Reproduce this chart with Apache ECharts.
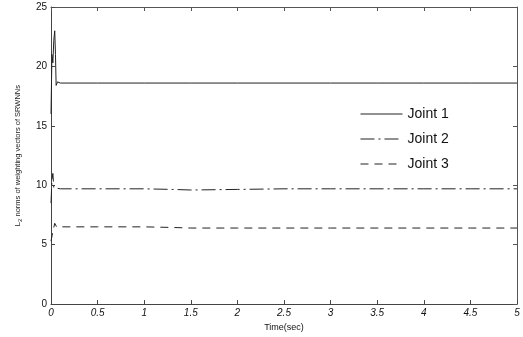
<!DOCTYPE html>
<html>
<head>
<meta charset="utf-8">
<script src="https://cdn.jsdelivr.net/npm/echarts@6/dist/echarts.min.js"></script>
<style>
html, body { margin: 0; padding: 0; background: #fff; }
#chart { width: 523px; height: 337px; }
</style>
</head>
<body>
<div id="chart"></div>
<script>
// values
const xTicks = [0, 0.5, 1, 1.5, 2, 2.5, 3, 3.5, 4, 4.5, 5]
const t1 = [0, 0.01, 0.02, 0.03, 0.04, 0.048, 0.055, 0.07, 0.1, 0.5, 1, 1.5, 2, 2.5, 3, 3.5, 4, 4.5, 5]
const joint1 = [16, 21, 20.3, 22.2, 23, 21, 18.4, 18.7, 18.6, 18.6, 18.6, 18.6, 18.6, 18.6, 18.6, 18.6, 18.6, 18.6, 18.6]
const t2 = [0, 0.01, 0.02, 0.03, 0.05, 0.1, 0.5, 1, 1.3, 1.5, 2, 2.5, 3, 3.5, 4, 4.5, 5]
const joint2 = [8.5, 10.4, 11, 9.8, 9.7, 9.7, 9.7, 9.7, 9.65, 9.6, 9.65, 9.7, 9.7, 9.7, 9.7, 9.7, 9.7]
const t3 = [0, 0.02, 0.04, 0.06, 0.1, 0.5, 1, 1.3, 1.5, 2, 2.5, 3, 3.5, 4, 4.5, 5]
const joint3 = [5.3, 6.1, 6.8, 6.5, 6.5, 6.5, 6.5, 6.45, 6.4, 6.4, 6.4, 6.4, 6.4, 6.4, 6.4, 6.4]

const pairs = (xs, ys) => xs.map((x, i) => [x, ys[i]])

let myChart = echarts.init(document.getElementById('chart'))

const lineColor = '#222'
const labelFont = 'Liberation Sans, Arial, sans-serif'

const options = {
    animation: false,
    grid: { left: 51, right: 6, top: 7, bottom: 29 },
    legend: {
        orient: 'vertical',
        left: 355,
        top: 102,
        itemWidth: 42,
        itemHeight: 10,
        itemGap: 11,
        itemStyle: { opacity: 0 },
        lineStyle: { width: 1 },
        textStyle: { fontSize: 14, color: '#111', fontFamily: labelFont },
        data: ['Joint 1', 'Joint 2', 'Joint 3']
    },
    xAxis: [
        {
            type: 'value', min: 0, max: 5, interval: 0.5,
            name: 'Time(sec)', nameLocation: 'middle', nameGap: 17,
            nameTextStyle: { fontSize: 9, color: '#111', fontFamily: labelFont },
            axisLine: { onZero: false, lineStyle: { color: '#444', width: 1 } },
            axisTick: { inside: true, length: 4, lineStyle: { color: '#444' } },
            axisLabel: {
                fontSize: 10, color: '#111', fontFamily: labelFont, fontStyle: 'italic', margin: 4,
                formatter: (v) => String(v)
            },
            splitLine: { show: false }
        },
        {
            type: 'value', min: 0, max: 5, interval: 0.5, position: 'top',
            axisLine: { onZero: false, lineStyle: { color: '#555', width: 1 } },
            axisTick: { inside: true, length: 4, lineStyle: { color: '#555' } },
            axisLabel: { show: false },
            splitLine: { show: false }
        }
    ],
    yAxis: [
        {
            type: 'value', min: 0, max: 25, interval: 5,
            name: '{n|L}{s|2}{n| norms of weighting vectors of SRWNNs}',
            nameLocation: 'middle', nameGap: 28, nameRotate: 90,
            nameTextStyle: {
                rich: {
                    n: { fontSize: 7.5, color: '#222', fontFamily: labelFont },
                    s: { fontSize: 6, color: '#222', fontFamily: labelFont, verticalAlign: 'bottom', padding: [4, 0, 0, 0] }
                }
            },
            axisLine: { show: true, onZero: false, lineStyle: { color: '#444', width: 1 } },
            axisTick: { show: true, inside: true, length: 4, lineStyle: { color: '#444' } },
            axisLabel: { fontSize: 10, color: '#111', fontFamily: labelFont, margin: 4 },
            splitLine: { show: false }
        },
        {
            type: 'value', min: 0, max: 25, interval: 5, position: 'right',
            axisLine: { show: true, onZero: false, lineStyle: { color: '#555', width: 1 } },
            axisTick: { show: true, inside: true, length: 4, lineStyle: { color: '#555' } },
            axisLabel: { show: false },
            splitLine: { show: false }
        }
    ],
    series: [
        {
            name: 'Joint 1', type: 'line', symbol: 'none',
            data: pairs(t1, joint1),
            lineStyle: { color: lineColor, width: 1 },
            itemStyle: { color: lineColor }
        },
        {
            name: 'Joint 2', type: 'line', symbol: 'none',
            data: pairs(t2, joint2),
            lineStyle: { color: lineColor, width: 1, type: [14, 4, 2, 4] },
            itemStyle: { color: lineColor }
        },
        {
            name: 'Joint 3', type: 'line', symbol: 'none',
            data: pairs(t3, joint3),
            lineStyle: { color: lineColor, width: 1, type: [8, 6] },
            itemStyle: { color: lineColor }
        }
    ]
}

myChart.setOption(options)
</script>
</body>
</html>
